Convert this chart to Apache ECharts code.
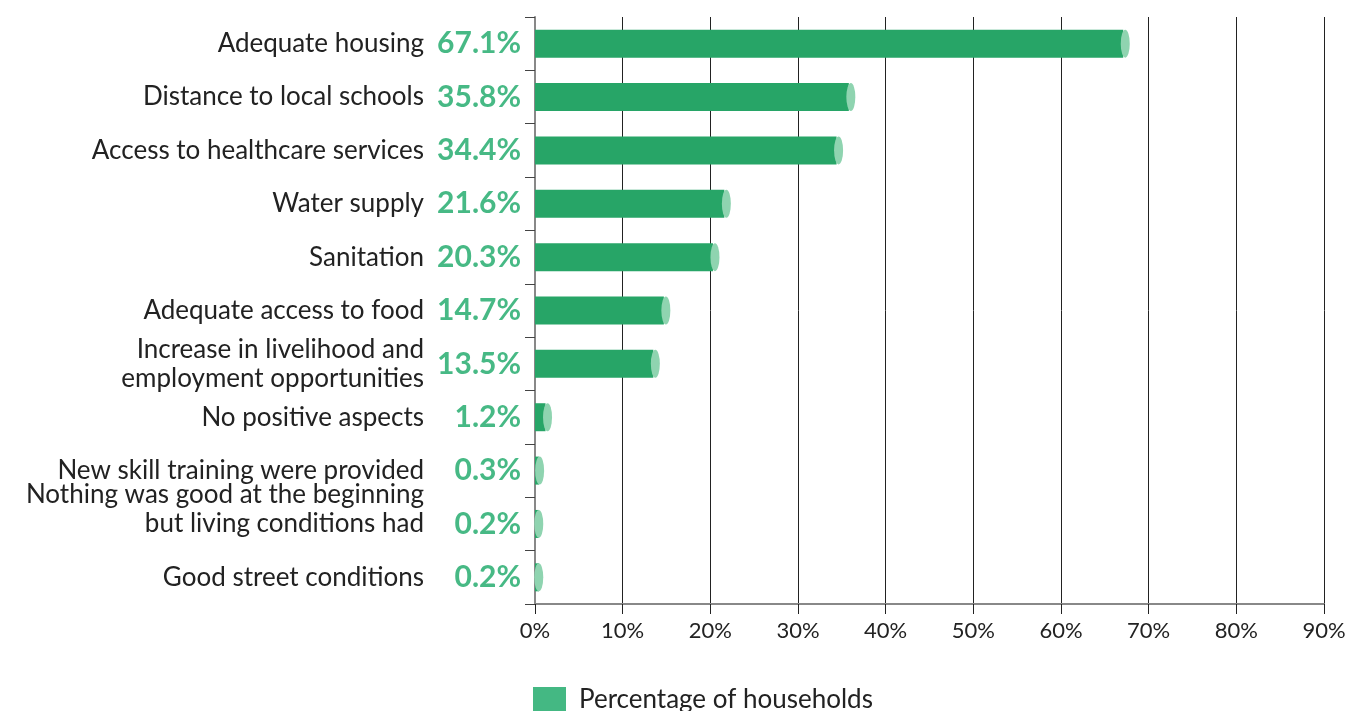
<!DOCTYPE html>
<html>
<head>
<meta charset="utf-8">
<script src="https://cdn.jsdelivr.net/npm/echarts@6/dist/echarts.min.js"></script>
<style>
    html, body {margin: 0; padding: 0; background: #fff;}
    #chart {width: 1358px; height: 711px;}
</style>
</head>
<body>
<div id="chart"></div>
<script>
// 类目 / 数值
let categories = [
    'Adequate housing',
    'Distance to local schools',
    'Access to healthcare services',
    'Water supply',
    'Sanitation',
    'Adequate access to food',
    'Increase in livelihood and\nemployment opportunities',
    'No positive aspects',
    'New skill training were provided',
    'Nothing was good at the beginning\nbut living conditions had\n ',
    'Good street conditions'
];
let values = [67.1, 35.8, 34.4, 21.6, 20.3, 14.7, 13.5, 1.2, 0.3, 0.2, 0.2];
let xTicks = [0, 10, 20, 30, 40, 50, 60, 70, 80, 90];
let seriesName = 'Percentage of households';

let font = 'Lato';
let myChart = echarts.init(document.getElementById('chart'));

// 圆柱顶端
let capData = values.map(function (v, i) {
    return [v, i];
});

myChart.setOption({
    animation: false,
    grid: {
        left: 535,
        right: 34,
        top: 17,
        bottom: 107
    },
    legend: {
        data: [seriesName],
        left: 528,
        top: 682,
        itemWidth: 33,
        itemHeight: 26,
        icon: 'rect',
        selectedMode: false,
        itemStyle: {color: '#44b883'},
        textStyle: {
            fontFamily: font,
            fontSize: 26,
            color: '#222',
            padding: [0, 0, 0, 8]
        }
    },
    xAxis: {
        type: 'value',
        min: xTicks[0],
        max: xTicks[xTicks.length - 1],
        interval: 10,
        axisLine: {show: true, lineStyle: {color: '#888', width: 2}},
        axisTick: {show: true, length: 10, lineStyle: {color: '#222'}},
        splitLine: {show: true, lineStyle: {color: '#222', width: 1}},
        axisLabel: {
            formatter: '{value}%',
            margin: 16,
            fontFamily: font,
            fontSize: 22,
            color: '#222'
        }
    },
    yAxis: {
        type: 'category',
        inverse: true,
        data: categories,
        axisLine: {show: true, lineStyle: {color: '#888', width: 2}},
        axisTick: {show: true, length: 10, lineStyle: {color: '#444'}},
        axisLabel: {
            interval: 0,
            margin: 111,
            fontFamily: font,
            fontSize: 26,
            lineHeight: 29,
            color: '#222'
        }
    },
    series: [
        {
            name: seriesName,
            type: 'bar',
            data: values,
            barWidth: 28,
            barMinHeight: 4,
            itemStyle: {color: '#27a567'},
            label: {
                show: true,
                position: 'left',
                distance: 14,
                formatter: function (p) {
                    return p.value.toFixed(1) + '%';
                },
                fontFamily: font,
                fontSize: 30,
                fontWeight: 'bold',
                color: '#47b985'
            },
            z: 2
        },
        {
            name: 'cap',
            type: 'scatter',
            data: capData,
            symbol: 'circle',
            symbolSize: [9, 28],
            symbolOffset: [2, 0],
            itemStyle: {color: '#8fd4b0', opacity: 1},
            silent: true,
            z: 3
        }
    ]
});
</script>
</body>
</html>
